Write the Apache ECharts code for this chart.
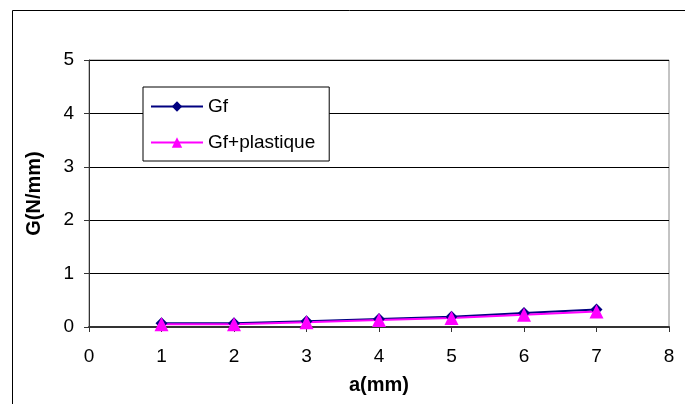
<!DOCTYPE html>
<html><head><meta charset="utf-8">
<script src="https://cdn.jsdelivr.net/npm/echarts@6/dist/echarts.min.js"></script>
<style>html,body{margin:0;padding:0;background:#fff}#c{width:685px;height:404px}</style>
</head><body><div id="c"></div>
<script>
const xValues = [1, 2, 3, 4, 5, 6, 7];
const gf = [0.07, 0.07, 0.11, 0.15, 0.19, 0.26, 0.33];
const gfPlast = [0.05, 0.05, 0.09, 0.13, 0.17, 0.23, 0.29];
const seriesNames = ['Gf', 'Gf+plastique'];

const chart = echarts.init(document.getElementById('c'));
const font = 'Liberation Sans, Arial, sans-serif';
chart.setOption({
  animation: false,
  graphic: [{type:'rect', shape:{x:12.5, y:10.5, width:700, height:420}, style:{fill:'none', stroke:'#000', lineWidth:1}, silent:true, z:-10}],
  grid: {left: 89, top: 60, right: 16, bottom: 77, show: true, borderColor: '#888', borderWidth: 1},
  legend: {
    left: 143, top: 87, orient: 'vertical',
    padding: [10, 14, 9, 7], itemGap: 17, itemWidth: 52, itemHeight: 13,
    borderColor: '#000', borderWidth: 1, backgroundColor:'#fff',
    textStyle: {fontFamily: font, fontSize: 19, color: '#000'},
    data: seriesNames
  },
  xAxis: {
    type: 'value', min: 0, max: 8, interval: 1,
    name: 'a(mm)', nameLocation: 'middle', nameGap: 48,
    nameTextStyle: {fontFamily: font, fontSize: 20, fontWeight: 'bold', color: '#000'},
    axisLine: {show: true, lineStyle: {color: '#333', width: 2}},
    axisTick: {show: true, length: 5, lineStyle: {color: '#333'}},
    axisLabel: {fontFamily: font, fontSize: 19, color: '#000', margin: 20},
    splitLine: {show: false}
  },
  yAxis: {
    type: 'value', min: 0, max: 5, interval: 1,
    name: 'G(N/mm)', nameLocation: 'middle', nameGap: 45,
    nameTextStyle: {fontFamily: font, fontSize: 20, fontWeight: 'bold', color: '#000'},
    axisLine: {show: true, lineStyle: {color: '#333', width: 1}},
    axisTick: {show: true, length: 5, lineStyle: {color: '#333'}},
    axisLabel: {fontFamily: font, fontSize: 19, color: '#000', margin: 15},
    splitLine: {show: true, lineStyle: {color: '#000', width: 1}}
  },
  series: [
    {name: seriesNames[0], type: 'line', data: xValues.map((x,i)=>[x, gf[i]]),
     symbol: 'diamond', symbolSize: 12, itemStyle: {color: '#000080'}, lineStyle: {color: '#000080', width: 2}},
    {name: seriesNames[1], type: 'line', data: xValues.map((x,i)=>[x, gfPlast[i]]),
     symbol: 'triangle', symbolSize: 14, itemStyle: {color: '#ff00ff'}, lineStyle: {color: '#ff00ff', width: 2}}
  ]
});
</script></body></html>
